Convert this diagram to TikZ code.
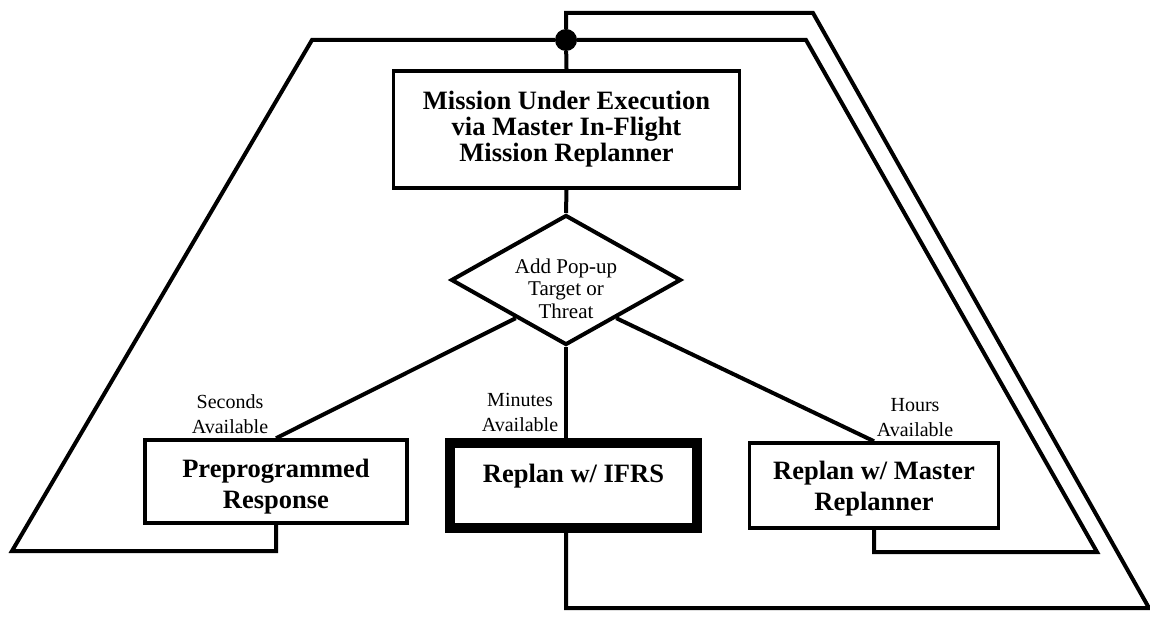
\documentclass[tikz,border=0pt]{standalone}
\usepackage{fontspec}
\setmainfont{Liberation Serif}
\usetikzlibrary{shapes.geometric,calc}
\begin{document}
\begin{tikzpicture}[x=1pt,y=-1pt,
  conn/.style={line width=4pt, line join=miter},
  boxnode/.style={draw, line width=3.5pt, inner sep=0pt, align=center,
    font=\fontsize{26.5}{31}\selectfont\bfseries},
  decision/.style={draw, diamond, line width=4pt, inner sep=-4pt, aspect=1.77,
    minimum width=230pt, minimum height=130pt, align=center,
    font=\fontsize{21}{22.5}\selectfont},
  lbl/.style={inner sep=0pt, align=center, font=\fontsize{20}{25}\selectfont},
  junction/.style={circle, fill, inner sep=0pt, minimum size=22pt},
]
\useasboundingbox (0,0) rectangle (1150,620);

% nodes
\node[boxnode, minimum width=346pt, minimum height=117pt,
  font=\fontsize{26.5}{26}\selectfont\bfseries] (main) at (566.5,129.5)
  {Mission Under Execution\\via Master In-Flight\\Mission Replanner};
\node[decision, text height=76pt, text depth=0pt] (dia) at (566,280)
  {Add Pop-up\\Target or\\Threat};
\node[boxnode, minimum width=262pt, minimum height=83pt,
  text height=53pt, text depth=0pt] (pre) at (276,481.5)
  {Preprogrammed\\Response};
\node[boxnode, line width=10pt, minimum width=247pt, minimum height=85pt,
  text height=18pt, text depth=25pt] (ifrs) at (573.5,485.5)
  {Replan w/ IFRS};
\node[boxnode, minimum width=249pt, minimum height=85pt,
  text height=49pt, text depth=0pt] (master) at (874,485.5)
  {Replan w/ Master\\Replanner};
\node[lbl] (lsec) at (230,413.7) {Seconds\\Available};
\node[lbl] (lmin) at (520,412.7) {Minutes\\Available};
\node[lbl] (lhrs) at (915,417.7) {Hours\\Available};
\node[junction] (dot) at (566,40) {};

% corner points of the feedback loops
\coordinate (lb) at (12,551);
\coordinate (lt) at (312,40);
\coordinate (rit) at (806,40);
\coordinate (rib) at (1097,552);
\coordinate (rot) at (813,13);
\coordinate (rob) at (1149,608);
\coordinate (ct) at (566,13);

% forward connectors
\draw[conn] (dot) -- (main.north);
\draw[conn] (main.south) -- (dia.north);
\draw[conn] ($(dia.west)!0.57!(dia.south)$) -- (pre.north);
\draw[conn] (dia.south) -- (dia.south |- ifrs.north);
\draw[conn] ($(dia.east)!0.57!(dia.south)$) -- (master.north);

% feedback loops
\draw[conn] (pre.south) -- (pre.south |- lb) -- (lb) -- (lt) -- (dot);
\draw[conn] (master.south) -- (master.south |- rib) -- (rib) -- (rit) -- (dot);
\draw[conn] (dia.south |- ifrs.south) -- (dia.south |- rob) -- (rob) -- (rot) -- (ct) -- (dot);
\end{tikzpicture}
\end{document}
